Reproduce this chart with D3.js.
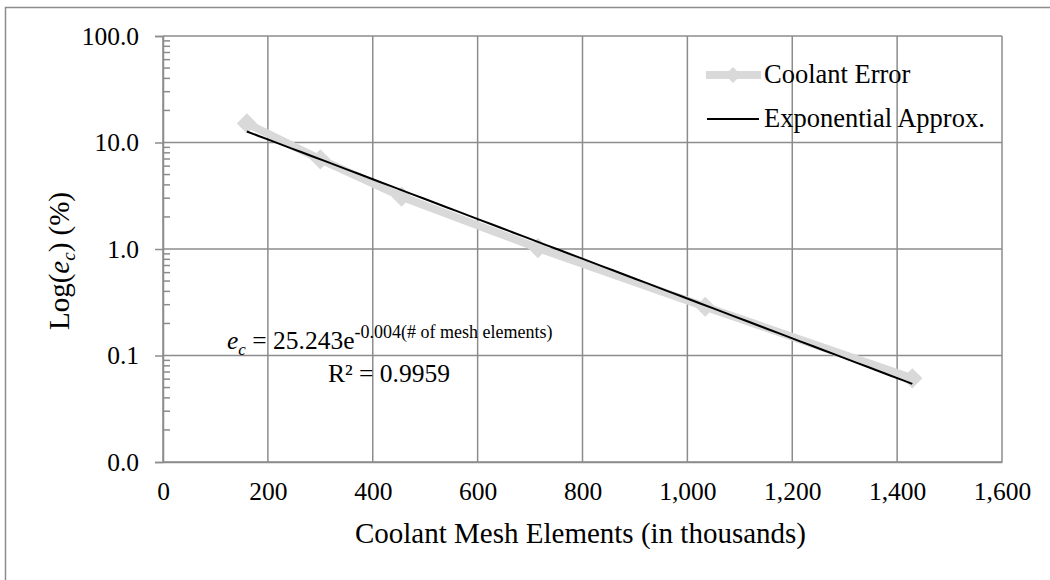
<!DOCTYPE html>
<html>
<head>
<meta charset="utf-8">
<script src="https://cdn.jsdelivr.net/npm/d3@7"></script>
<style>
  html, body { margin: 0; padding: 0; background: #ffffff; }
  svg { display: block; }
  text { font-family: "Liberation Serif", "Times New Roman", serif; fill: #000; }
</style>
</head>
<body>
<svg id="chart" width="1050" height="580"></svg>
<script>
// Mesh size (thousands of coolant elements) and the matching coolant error (%)
const meshElements = [160, 300, 455, 715, 1034, 1429];
const coolantError = [15.1, 6.95, 3.1, 1.02, 0.287, 0.061];

// Exponential fit e_c = A * exp(-k * n)
const fitA = 25.243;
const fitK = 0.0043;
const fitR2 = 0.9959;

// Axis ticks
const xTicks = [0, 200, 400, 600, 800, 1000, 1200, 1400, 1600];
const yTicks = [0.01, 0.1, 1, 10, 100];

const legendLabels = ["Coolant Error", "Exponential Approx."];

const svg = d3.select("#chart");
const gridColor = "#8c8c8c";
const seriesColor = "#d9d9d9";

// Outer frame
svg.append("rect")
  .attr("x", 5.5).attr("y", 7.5)
  .attr("width", 1060).attr("height", 600)
  .attr("fill", "none").attr("stroke", "#8c8c8c").attr("stroke-width", 1.5);

const plot = { left: 163, right: 1002, top: 36, bottom: 462 };

const x = d3.scaleLinear().domain([0, 1600]).range([plot.left, plot.right]);
const y = d3.scaleLog().domain([0.01, 100]).range([plot.bottom, plot.top]);

// Gridlines
const grid = svg.append("g").attr("stroke", gridColor).attr("stroke-width", 1.5);
grid.selectAll(".gx").data(xTicks).join("line")
  .attr("x1", d => x(d)).attr("x2", d => x(d))
  .attr("y1", plot.top).attr("y2", plot.bottom);
grid.selectAll(".gy").data(yTicks).join("line")
  .attr("x1", plot.left).attr("x2", plot.right)
  .attr("y1", d => y(d)).attr("y2", d => y(d));

// Y axis with decade labels and minor log ticks
const yAxis = d3.axisLeft(y)
  .tickValues(yTicks)
  .tickFormat(d3.format(".1f"))
  .tickSize(8)
  .tickPadding(16);
const yg = svg.append("g").attr("transform", `translate(${plot.left},0)`).call(yAxis);
yg.select(".domain").attr("stroke", gridColor).attr("stroke-width", 1.5);
yg.selectAll(".tick line").attr("stroke", gridColor).attr("stroke-width", 1.5);
yg.selectAll(".tick text")
  .attr("font-family", "Liberation Serif").attr("font-size", 25.5).attr("fill", "#000");

const minor = [];
yTicks.slice(0, -1).forEach(d => { for (let m = 2; m <= 9; m++) minor.push(d * m); });
svg.append("g").selectAll("line").data(minor).join("line")
  .attr("x1", plot.left).attr("x2", plot.left + 7)
  .attr("y1", d => y(d)).attr("y2", d => y(d))
  .attr("stroke", gridColor).attr("stroke-width", 1.5);

// X axis labels
const xAxis = d3.axisBottom(x)
  .tickValues(xTicks)
  .tickFormat(d3.format(","))
  .tickSize(0)
  .tickPadding(20);
const xg = svg.append("g").attr("transform", `translate(0,${plot.bottom})`).call(xAxis);
xg.select(".domain").attr("stroke", gridColor).attr("stroke-width", 1.5);
xg.selectAll(".tick text")
  .attr("font-family", "Liberation Serif").attr("font-size", 25.5).attr("fill", "#000");

// Axis titles
svg.append("text")
  .attr("x", (plot.left + plot.right) / 2 - 2).attr("y", 543)
  .attr("text-anchor", "middle").attr("font-size", 29)
  .text("Coolant Mesh Elements (in thousands)");

const yTitle = svg.append("text")
  .attr("transform", "translate(69,261) rotate(-90)")
  .attr("text-anchor", "middle").attr("font-size", 29);
yTitle.append("tspan").text("Log(");
yTitle.append("tspan").attr("font-style", "italic").text("e");
yTitle.append("tspan").attr("font-style", "italic").attr("font-size", 19).attr("dy", 6).text("c");
yTitle.append("tspan").attr("dy", -6).text(") (%)");

// Coolant error series
const data = meshElements.map((m, i) => ({ m, e: coolantError[i] }));
svg.append("path").datum(data)
  .attr("fill", "none").attr("stroke", seriesColor).attr("stroke-width", 8)
  .attr("stroke-linejoin", "round")
  .attr("d", d3.line().x(d => x(d.m)).y(d => y(d.e)));

const diamond = d3.symbol().type(d3.symbolDiamond2).size(260);
svg.append("g").selectAll("path").data(data).join("path")
  .attr("transform", d => `translate(${x(d.m)},${y(d.e)})`)
  .attr("d", diamond).attr("fill", seriesColor);

// Exponential trend line across the measured range
const fitPts = d3.range(0, 61).map(i => {
  const n = meshElements[0] + (meshElements[meshElements.length - 1] - meshElements[0]) * i / 60;
  return { m: n, e: fitA * Math.exp(-fitK * n) };
});
svg.append("path").datum(fitPts)
  .attr("fill", "none").attr("stroke", "#000").attr("stroke-width", 2)
  .attr("d", d3.line().x(d => x(d.m)).y(d => y(d.e)));

// Fit equation and R²
const eq = svg.append("text").attr("x", 227).attr("y", 349).attr("font-size", 25.5);
eq.append("tspan").attr("font-style", "italic").text("e");
eq.append("tspan").attr("font-style", "italic").attr("font-size", 17).attr("dy", 6).text("c");
eq.append("tspan").attr("dy", -6).text(" = " + fitA.toFixed(3) + "e");
eq.append("tspan").attr("font-size", 18).attr("dy", -11)
  .text("-" + d3.format(".3f")(fitK) + "(# of mesh elements)");

svg.append("text").attr("x", 328).attr("y", 382).attr("font-size", 25.5)
  .text("R\u00b2 = " + fitR2.toFixed(4));

// Legend
const legend = svg.append("g");
const lg1 = legend.append("g").attr("transform", "translate(706,75)");
lg1.append("line").attr("x1", 0).attr("x2", 55).attr("y1", 0).attr("y2", 0)
  .attr("stroke", seriesColor).attr("stroke-width", 8);
lg1.append("path").attr("transform", "translate(27,0)")
  .attr("d", d3.symbol().type(d3.symbolDiamond2).size(160)).attr("fill", seriesColor);
lg1.append("text").attr("x", 58).attr("y", 8).attr("font-size", 26.5).text(legendLabels[0]);

const lg2 = legend.append("g").attr("transform", "translate(707,119)");
lg2.append("line").attr("x1", 0).attr("x2", 52).attr("y1", 0).attr("y2", 0)
  .attr("stroke", "#000").attr("stroke-width", 2);
lg2.append("text").attr("x", 57).attr("y", 8).attr("font-size", 26.5).text(legendLabels[1]);
</script>
</body>
</html>
